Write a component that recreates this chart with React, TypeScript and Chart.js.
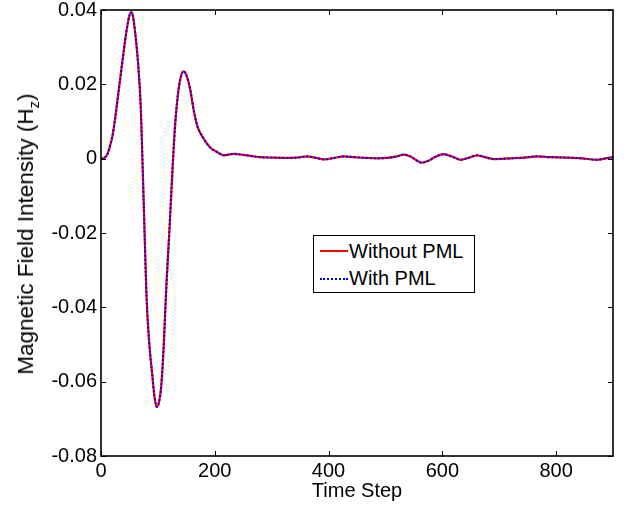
import React, { useEffect, useRef } from "react";
import { Chart, registerables } from "chart.js";

Chart.register(...registerables);

const steps = [0, 5, 8, 12, 16, 20, 25, 30, 35, 40, 45, 50, 53, 56, 60, 65, 70, 75, 80, 85, 90, 94, 98, 102, 106, 110, 115, 120, 125, 130, 135, 140, 145, 150, 157, 163, 170, 180, 192, 204, 216, 233, 250, 265, 280, 300, 327, 345, 362, 378, 392, 410, 426, 445, 467, 485, 503, 520, 532, 545, 553, 564, 575, 588, 602, 618, 632, 646, 661, 675, 690, 720, 745, 766, 790, 819, 845, 871, 885, 900];
const withoutPML = [0, 0.0001, 0.0005, 0.0015, 0.0035, 0.006, 0.011, 0.017, 0.023, 0.029, 0.0345, 0.0385, 0.0394, 0.0385, 0.034, 0.026, 0.0135, -0.0115, -0.037, -0.05, -0.058, -0.064, -0.0668, -0.0655, -0.061, -0.051, -0.034, -0.02, -0.005, 0.0085, 0.017, 0.0218, 0.0235, 0.0225, 0.0185, 0.013, 0.0085, 0.0055, 0.003, 0.0018, 0.0009, 0.0013, 0.001, 0.0007, 0.0004, 0.0003, 0.0002, 0.0003, 0.0006, 0.0002, -0.0002, 0.0002, 0.0006, 0.0004, 0.0002, 0.0001, 0.0002, 0.0006, 0.0011, 0.0005, -0.0003, -0.0011, -0.0006, 0.0005, 0.0012, 0.0005, -0.0003, 0.0002, 0.0009, 0.0004, -0.0001, 0.0001, 0.0003, 0.0006, 0.0004, 0.0003, 0.0001, -0.0003, 0.0, 0.0004];
const withPML = withoutPML.slice();
const xTicks = [0, 200, 400, 600, 800];
const yTicks = [-0.08, -0.06, -0.04, -0.02, 0, 0.02, 0.04];

const FONT = '"Liberation Sans", Arial, Helvetica, sans-serif';

const boxPlugin = {
  id: "matlabBox",
  afterDraw(chart: any) {
    const { ctx, chartArea: a, scales } = chart;
    ctx.save();
    ctx.strokeStyle = "#000";
    ctx.lineWidth = 1;
    const tl = 5;
    ctx.beginPath();
    for (const v of xTicks) {
      const x = Math.round(scales.x.getPixelForValue(v)) + 0.5;
      ctx.moveTo(x, a.bottom);
      ctx.lineTo(x, a.bottom - tl);
      ctx.moveTo(x, a.top);
      ctx.lineTo(x, a.top + tl);
    }
    for (const v of yTicks) {
      const y = Math.round(scales.y.getPixelForValue(v)) + 0.5;
      ctx.moveTo(a.left, y);
      ctx.lineTo(a.left + tl, y);
      ctx.moveTo(a.right, y);
      ctx.lineTo(a.right - tl, y);
    }
    ctx.stroke();
    ctx.lineWidth = 1.6;
    ctx.strokeRect(a.left, a.top, a.right - a.left, a.bottom - a.top);
    ctx.restore();
  },
};

export default function App() {
  const ref = useRef<HTMLCanvasElement | null>(null);
  useEffect(() => {
    document.body.style.margin = "0";
    const pts = steps.map((s, i) => ({ x: s, y: withoutPML[i] }));
    const pts2 = steps.map((s, i) => ({ x: s, y: withPML[i] }));
    const chart = new Chart(ref.current as HTMLCanvasElement, {
      type: "line",
      data: {
        datasets: [
          {
            label: "With PML",
            data: pts2,
            borderColor: "#0000ff",
            borderWidth: 2,
            borderDash: [2, 2],
            pointRadius: 0,
            cubicInterpolationMode: "monotone",
            order: 1,
          },
          {
            label: "Without PML",
            data: pts,
            borderColor: "#ff0000",
            borderWidth: 2.2,
            pointRadius: 0,
            cubicInterpolationMode: "monotone",
            order: 2,
          },
        ],
      },
      options: {
        animation: false,
        responsive: false,
        maintainAspectRatio: false,
        layout: { padding: { left: 0, right: 15, top: 10, bottom: 0 } },
        plugins: { legend: { display: false }, tooltip: { enabled: false } },
        scales: {
          x: {
            type: "linear",
            min: 0,
            max: 900,
            grid: { display: false, drawTicks: false },
            border: { display: false },
            afterBuildTicks: (s: any) => {
              s.ticks = xTicks.map((v) => ({ value: v }));
            },
            afterFit: (s: any) => {
              s.height = 50;
              s.paddingLeft = 0;
              s.paddingRight = 0;
            },
            ticks: {
              padding: 3,
              color: "#000",
              maxRotation: 0,
              autoSkip: false,
              font: { family: FONT, size: 20 },
              callback: (v: any) => String(v),
            },
            title: {
              display: true,
              text: "Time Step",
              color: "#000",
              font: { family: FONT, size: 20 },
              padding: { top: 0, bottom: 3 },
            },
          },
          y: {
            type: "linear",
            min: -0.08,
            max: 0.04,
            grid: { display: false, drawTicks: false },
            border: { display: false },
            afterBuildTicks: (s: any) => {
              s.ticks = yTicks.map((v) => ({ value: v }));
            },
            afterFit: (s: any) => {
              s.width = 101;
              s.paddingTop = 0;
              s.paddingBottom = 0;
            },
            ticks: {
              padding: 4,
              color: "#000",
              autoSkip: false,
              font: { family: FONT, size: 20 },
              callback: (v: any) => (Math.abs(v) < 1e-9 ? "0" : Number(v).toFixed(2)),
            },
          },
        },
      },
      plugins: [boxPlugin],
    } as any);
    return () => chart.destroy();
  }, []);

  const textStyle: React.CSSProperties = {
    fontFamily: FONT,
    fontSize: 20,
    color: "#000",
    whiteSpace: "nowrap",
  };

  return (
    <div style={{ position: "relative", width: 628, height: 506, background: "#fff" }}>
      <canvas ref={ref} width={628} height={506} style={{ display: "block" }} />
      <div
        style={{
          ...textStyle,
          fontSize: 22.5,
          position: "absolute",
          left: 26,
          top: 234,
          transform: "translate(-50%, -50%) rotate(-90deg)",
          lineHeight: "26px",
        }}
      >
        Magnetic Field Intensity (H<sub style={{ fontSize: 15, verticalAlign: "-6px", lineHeight: 0 }}>z</sub>)
      </div>
      <div
        style={{
          position: "absolute",
          left: 313,
          top: 235,
          width: 160,
          height: 56,
          border: "1px solid #000",
          background: "#fff",
        }}
      >
        <div style={{ position: "absolute", left: 6, top: 14, width: 28, height: 0, borderTop: "2px solid #ff0000" }} />
        <div style={{ ...textStyle, position: "absolute", left: 35, top: 3, lineHeight: "24px" }}>Without PML</div>
        <div style={{ position: "absolute", left: 6, top: 42, width: 28, height: 0, borderTop: "2px dotted #0000ff" }} />
        <div style={{ ...textStyle, position: "absolute", left: 35, top: 30, lineHeight: "24px" }}>With PML</div>
      </div>
    </div>
  );
}
